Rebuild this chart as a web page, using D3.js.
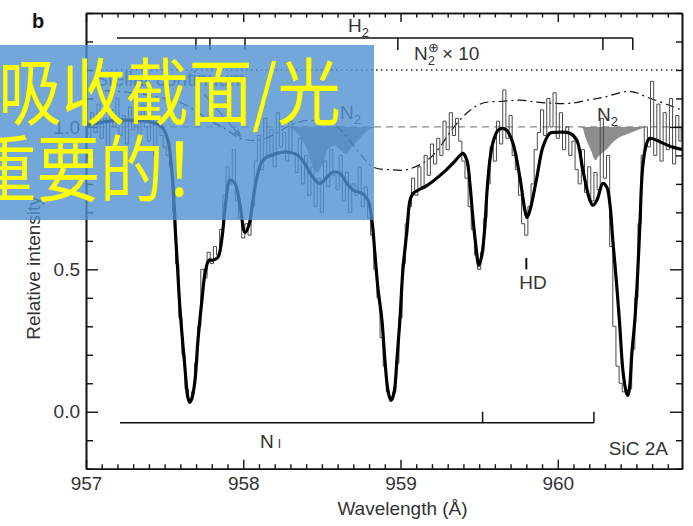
<!DOCTYPE html>
<html><head><meta charset="utf-8">
<script src="https://cdn.jsdelivr.net/npm/d3@7"></script>
<style>
body{margin:0;background:#fff}
svg{display:block}
text{font-family:'Liberation Sans',Arial,Helvetica,sans-serif}
</style>
</head><body>
<svg id="c" width="693" height="526"></svg>
<script>
// ---------------- data ----------------
const wavelengthTicks = [957, 958, 959, 960];
const wavelengthLabels = ["957", "958", "959", "960"];
const intensityTicks = [0.0, 0.5, 1.0];
const intensityLabels = ["0.0", "0.5", "1.0"];

// observed spectrum (thin histogram)
const observed = [
 [957.00,1.00],[957.02,0.95],[957.04,1.05],[957.06,0.98],[957.08,1.08],[957.10,0.96],[957.12,1.03],[957.14,0.92],
 [957.16,1.06],[957.18,1.00],[957.20,1.10],[957.22,0.97],[957.24,1.04],[957.26,0.94],[957.28,1.07],[957.30,0.99],
 [957.32,1.05],[957.34,0.93],[957.36,1.08],[957.38,1.00],[957.40,0.95],[957.42,1.04],[957.44,0.90],[957.46,1.02],
 [957.48,0.97],[957.50,0.93],[957.52,0.90],[957.54,0.86],[957.56,0.70],[957.58,0.52],[957.60,0.33],[957.62,0.20],
 [957.64,0.08],[957.66,0.04],[957.68,0.07],[957.70,0.17],[957.72,0.30],[957.74,0.50],[957.76,0.47],[957.78,0.56],
 [957.80,0.52],[957.82,0.58],[957.84,0.55],[957.86,0.64],[957.88,0.76],[957.90,0.86],[957.92,0.80],[957.94,0.92],
 [957.96,0.74],[957.98,0.68],[958.00,0.61],[958.02,0.66],[958.04,0.62],[958.06,0.72],[958.08,0.88],[958.10,0.97],
 [958.12,0.85],[958.14,1.03],[958.16,0.90],[958.18,0.99],[958.20,0.86],[958.22,1.05],[958.24,0.93],[958.26,0.98],
 [958.28,0.88],[958.30,1.02],[958.32,0.91],[958.34,0.84],[958.36,0.96],[958.38,0.80],[958.40,0.90],[958.42,0.76],
 [958.44,0.86],[958.46,0.72],[958.48,0.82],[958.50,0.70],[958.52,0.88],[958.54,0.79],[958.56,0.92],[958.58,0.83],
 [958.60,0.78],[958.62,0.90],[958.64,0.74],[958.66,0.84],[958.68,0.70],[958.70,0.80],[958.72,0.76],[958.74,0.86],
 [958.76,0.72],[958.78,0.79],[958.80,0.68],[958.82,0.62],[958.84,0.50],[958.86,0.40],[958.88,0.26],[958.90,0.16],
 [958.92,0.07],[958.94,0.04],[958.96,0.07],[958.98,0.17],[959.00,0.33],[959.02,0.52],[959.04,0.66],[959.06,0.72],
 [959.08,0.82],[959.10,0.76],[959.12,0.86],[959.14,0.79],[959.16,0.90],[959.18,0.83],[959.20,0.94],[959.22,0.87],
 [959.24,0.96],[959.26,0.90],[959.28,1.02],[959.30,0.92],[959.32,1.05],[959.34,0.97],[959.36,1.03],[959.38,0.95],
 [959.40,0.88],[959.42,0.82],[959.44,0.72],[959.46,0.64],[959.48,0.55],[959.50,0.50],[959.52,0.56],[959.54,0.68],
 [959.56,0.80],[959.58,0.93],[959.60,0.88],[959.62,1.02],[959.64,0.94],[959.66,1.13],[959.68,0.96],[959.70,1.04],
 [959.72,0.90],[959.74,0.85],[959.76,0.76],[959.78,0.66],[959.80,0.62],[959.82,0.72],[959.84,0.80],[959.86,0.92],
 [959.88,0.98],[959.90,1.06],[959.92,0.97],[959.94,1.10],[959.96,1.00],[959.98,1.12],[960.00,0.96],[960.02,1.05],
 [960.04,0.92],[960.06,1.00],[960.08,0.90],[960.10,0.95],[960.12,0.85],[960.14,0.80],[960.16,0.92],[960.18,0.77],
 [960.20,0.86],[960.22,0.74],[960.24,0.84],[960.26,0.78],[960.28,1.03],[960.30,0.82],[960.32,0.90],[960.34,0.58],
 [960.36,0.30],[960.38,0.16],[960.40,0.10],[960.42,0.07],[960.44,0.06],[960.46,0.08],[960.48,0.22],[960.50,0.40],
 [960.52,0.66],[960.54,0.90],[960.56,1.00],[960.58,0.93],[960.60,1.16],[960.62,0.90],[960.64,1.08],[960.66,0.88],
 [960.68,1.05],[960.70,0.92],[960.72,1.10],[960.74,0.87],[960.76,1.04],[960.78,0.95],[960.79,1.00]
];

// model fit (thick line)
const model = [
 [957.00,1.006],[957.10,1.016],[957.20,1.023],[957.31,1.023],[957.42,1.016],[957.483,0.999],[957.521,0.953],
 [957.547,0.837],[957.559,0.743],[957.569,0.627],[957.582,0.507],[957.594,0.391],[957.610,0.275],[957.629,0.156],
 [957.648,0.050],[957.661,0.033],[957.674,0.047],[957.693,0.110],[957.712,0.251],[957.737,0.391],[957.757,0.486],
 [957.782,0.532],[957.807,0.532],[957.839,0.542],[957.865,0.612],[957.890,0.743],[957.915,0.813],[957.947,0.802],
 [957.979,0.725],[958.011,0.630],[958.036,0.655],[958.062,0.743],[958.087,0.823],[958.125,0.883],[958.214,0.907],
 [958.297,0.911],[958.360,0.894],[958.405,0.858],[958.443,0.823],[958.488,0.802],[958.532,0.823],[958.570,0.841],
 [958.615,0.837],[958.659,0.802],[958.697,0.778],[958.755,0.767],[958.793,0.743],[958.818,0.672],[958.837,0.556],
 [958.856,0.436],[958.882,0.320],[958.901,0.180],[958.920,0.075],[958.939,0.040],[958.958,0.064],[958.977,0.180],
 [958.996,0.320],[959.015,0.496],[959.041,0.636],[959.060,0.741],[959.079,0.766],[959.168,0.794],[959.250,0.829],
 [959.333,0.872],[959.378,0.900],[959.397,0.907],[959.422,0.883],[959.441,0.802],[959.460,0.682],[959.479,0.584],
 [959.498,0.514],[959.517,0.549],[959.537,0.655],[959.549,0.766],[959.568,0.883],[959.587,0.943],[959.619,0.988],
 [959.651,0.995],[959.676,0.988],[959.715,0.943],[959.759,0.823],[959.791,0.707],[959.804,0.682],[959.823,0.707],
 [959.867,0.823],[959.905,0.929],[959.950,0.978],[959.994,0.981],[960.077,0.978],[960.121,0.953],[960.160,0.847],
 [960.204,0.743],[960.223,0.725],[960.249,0.743],[960.287,0.802],[960.312,0.788],[960.331,0.732],[960.350,0.602],
 [960.376,0.436],[960.395,0.296],[960.414,0.145],[960.433,0.075],[960.446,0.057],[960.458,0.092],[960.471,0.205],
 [960.490,0.320],[960.509,0.496],[960.522,0.654],[960.541,0.865],[960.566,0.943],[960.585,0.960],[960.630,0.953],
 [960.668,0.943],[960.731,0.929],[960.790,0.921]
];

// stellar continuum (dash-dot)
const continuum = [
 [957.00,1.13],[957.30,1.12],[957.50,1.10],[957.60,1.086],[957.81,1.016],[957.90,0.988],[957.98,0.960],
 [958.09,0.953],[958.19,0.971],[958.30,1.006],[958.41,1.023],[958.51,1.016],[958.60,0.999],[958.66,0.964],
 [958.74,0.907],[958.83,0.858],[958.93,0.850],[959.04,0.850],[959.17,0.883],[959.25,0.929],[959.31,0.978],
 [959.42,1.048],[959.52,1.083],[959.65,1.090],[959.76,1.094],[959.87,1.087],[959.97,1.083],[960.08,1.083],
 [960.19,1.094],[960.29,1.104],[960.46,1.125],[960.57,1.104],[960.71,1.076],[960.79,1.059]
];

// N2 absorption bands (grey shaded)
const n2BandA = [
 [958.297,1.0],[958.348,0.975],[958.399,0.93],[958.437,0.87],[958.469,0.84],[958.500,0.865],[958.538,0.92],
 [958.577,0.935],[958.615,0.92],[958.653,0.905],[958.691,0.93],[958.742,0.96],[958.793,0.988],[958.837,1.0]
];
const n2BandB = [
 [960.140,1.0],[960.159,0.995],[960.172,0.970],[960.191,0.942],[960.216,0.911],[960.229,0.890],[960.242,0.883],
 [960.255,0.894],[960.280,0.908],[960.312,0.922],[960.344,0.943],[960.382,0.960],[960.439,0.974],[960.503,0.988],
 [960.554,1.0]
];

const continuumLevel = 1.0;     // dashed normalised continuum
const n2x10Level = 1.2;         // dotted N2 x10 reference

const h2Range = [957.197, 960.477];
const h2Ticks = [957.699, 957.788, 958.011, 958.983, 960.287, 960.477];
const h2Level = [1.312, 1.27];

const n1Range = [957.216, 960.23];
const n1Ticks = [959.522, 960.23];
const n1Level = [-0.039, 0.0];

const hdMark = [959.80, 0.54, 0.50];

// ---------------- drawing ----------------
(function(){
const svg = d3.select('#c');
const x = d3.scaleLinear().domain([957, 960.79]).range([86, 682]);
const y = d3.scaleLinear().domain([-0.2, 1.4]).range([468.7, 13]);

svg.append('defs').append('clipPath').attr('id','plot')
  .append('rect').attr('x',x(957)).attr('y',y(1.4)).attr('width',x(960.79)-x(957)).attr('height',y(-0.2)-y(1.4));
const g = svg.append('g').attr('clip-path','url(#plot)');

const area = d3.area().x(d=>x(d[0])).y0(y(continuumLevel)).y1(d=>y(d[1])).curve(d3.curveMonotoneX);
[n2BandA, n2BandB].forEach(b => g.append('path').attr('d', area(b)).attr('fill','#8e8e8e'));

g.append('line').attr('x1',x(957)).attr('x2',x(960.79)).attr('y1',y(continuumLevel)).attr('y2',y(continuumLevel))
  .attr('stroke','#8a8a8a').attr('stroke-width',1.2).attr('stroke-dasharray','7,5');
g.append('line').attr('x1',x(957)).attr('x2',x(960.79)).attr('y1',y(n2x10Level)).attr('y2',y(n2x10Level))
  .attr('stroke','#222').attr('stroke-width',1.4).attr('stroke-dasharray','1.4,3.6');

g.append('path').attr('d', d3.line().x(d=>x(d[0])).y(d=>y(d[1])).curve(d3.curveCatmullRom)(continuum)).attr('fill','none')
  .attr('stroke','#111').attr('stroke-width',1.2).attr('stroke-dasharray','9,4,2,4');

g.append('path').attr('d', d3.line().x(d=>x(d[0])).y(d=>y(d[1])).curve(d3.curveStep)(observed))
  .attr('fill','none').attr('stroke','#4a4a4a').attr('stroke-width',1);

g.append('path').attr('d', d3.line().x(d=>x(d[0])).y(d=>y(d[1])).curve(d3.curveCatmullRom.alpha(0.5))(model))
  .attr('fill','none').attr('stroke','#000').attr('stroke-width',3.2).attr('stroke-linejoin','round');

// H2 bar
const bars = svg.append('g').attr('stroke','#111').attr('stroke-width',1.5).attr('fill','none');
bars.append('line').attr('x1',x(h2Range[0])).attr('x2',x(h2Range[1])).attr('y1',y(h2Level[0])).attr('y2',y(h2Level[0]));
h2Ticks.forEach(t => bars.append('line').attr('x1',x(t)).attr('x2',x(t)).attr('y1',y(h2Level[0])).attr('y2',y(h2Level[1])));
// N I bar
bars.append('line').attr('x1',x(n1Range[0])).attr('x2',x(n1Range[1])).attr('y1',y(n1Level[0])).attr('y2',y(n1Level[0]));
n1Ticks.forEach(t => bars.append('line').attr('x1',x(t)).attr('x2',x(t)).attr('y1',y(n1Level[0])).attr('y2',y(n1Level[1])));
// HD tick
bars.append('line').attr('x1',x(hdMark[0])).attr('x2',x(hdMark[0])).attr('y1',y(hdMark[1])).attr('y2',y(hdMark[2])).attr('stroke-width',2);

// arrow from label to continuum
svg.append('defs').append('marker').attr('id','ah').attr('viewBox','0 0 10 10').attr('refX',9).attr('refY',5)
  .attr('markerWidth',7).attr('markerHeight',7).attr('orient','auto')
  .append('path').attr('d','M0,1 L10,5 L0,9 Z').attr('fill','#555');
svg.append('line').attr('x1',x(957.75)).attr('y1',y(1.115)).attr('x2',x(957.985)).attr('y2',y(0.965))
  .attr('stroke','#555').attr('stroke-width',1.2).attr('marker-end','url(#ah)');

// axes
const minorX = x.ticks(40).filter(t => Math.abs(t - Math.round(t)) > 1e-6);
const minorY = y.ticks(16).filter(t => !intensityTicks.some(m => Math.abs(m - t) < 1e-6));
const axG = svg.append('g');
function styleAxis(sel){ sel.selectAll('path.domain').attr('stroke','#111').attr('stroke-width',1.6);
  sel.selectAll('.tick line').attr('stroke','#111').attr('stroke-width',1.4);
  sel.selectAll('text').attr('fill','#333').attr('font-family',"'Liberation Sans',Arial,sans-serif").attr('font-size',19); }
function addAxis(gen, tx, ty){ const a = axG.append('g').attr('transform',`translate(${tx},${ty})`).call(gen); styleAxis(a); return a; }
addAxis(d3.axisBottom(x).tickValues(wavelengthTicks).tickFormat((d,i)=>wavelengthLabels[i]).tickSize(-9).tickSizeOuter(0).tickPadding(8), 0, y(-0.2));
addAxis(d3.axisBottom(x).tickValues(minorX).tickFormat('').tickSize(-4.5).tickSizeOuter(0), 0, y(-0.2));
addAxis(d3.axisTop(x).tickValues(wavelengthTicks).tickFormat('').tickSize(-9).tickSizeOuter(0), 0, y(1.4));
addAxis(d3.axisTop(x).tickValues(minorX).tickFormat('').tickSize(-4.5).tickSizeOuter(0), 0, y(1.4));
addAxis(d3.axisLeft(y).tickValues(intensityTicks).tickFormat((d,i)=>intensityLabels[i]).tickSize(-12).tickSizeOuter(0).tickPadding(6), x(957), 0);
addAxis(d3.axisLeft(y).tickValues(minorY).tickFormat('').tickSize(-7).tickSizeOuter(0), x(957), 0);
addAxis(d3.axisRight(y).tickValues(intensityTicks).tickFormat('').tickSize(-12).tickSizeOuter(0), x(960.79), 0);
addAxis(d3.axisRight(y).tickValues(minorY).tickFormat('').tickSize(-6).tickSizeOuter(0), x(960.79), 0);

// labels
const T = svg.append('g').attr('fill','#333').attr('font-size',19);
T.append('text').attr('x',32).attr('y',28).attr('font-weight','bold').attr('font-size',20).attr('fill','#111').text('b');
T.append('text').attr('x',x(959.0)+2).attr('y',515).attr('text-anchor','middle').text('Wavelength (Å)');
T.append('text').attr('transform','translate(40,268) rotate(-90)').attr('text-anchor','middle').text('Relative intensity');

const h2 = T.append('text').attr('x',348).attr('y',32);
h2.append('tspan').text('H');
h2.append('tspan').attr('font-size',13).attr('dy',5).text('2');

const n2x = T.append('text').attr('x',414).attr('y',60);
n2x.append('tspan').text('N');
n2x.append('tspan').attr('font-size',13).attr('dy',5).text('2');
n2x.append('tspan').attr('font-size',13).attr('dy',-13).attr('dx',-7).attr('font-family','DejaVu Sans').text('⊕');
n2x.append('tspan').attr('dy',8).attr('dx',3).text('× 10');

[[340,119],[597,121]].forEach(p => {
  const t = T.append('text').attr('x',p[0]).attr('y',p[1]);
  t.append('tspan').text('N');
  t.append('tspan').attr('font-size',13).attr('dy',5).text('2');
});

T.append('text').attr('x',533).attr('y',289).attr('text-anchor','middle').text('HD');
const ni = T.append('text').attr('x',260).attr('y',448);
ni.append('tspan').text('N');
ni.append('tspan').attr('font-size',12).attr('dx',4).text('I');
T.append('text').attr('x',668).attr('y',455).attr('text-anchor','end').text('SiC 2A');
T.append('text').attr('x',95).attr('y',86).attr('fill','#555').attr('font-size',19.5).text('Stellar continuum');

// overlay banner
svg.append('rect').attr('x',0).attr('y',45).attr('width',374).attr('height',175).attr('fill','rgba(80,145,208,0.8)');
const cjk = svg.append('g').attr('fill','#ffff00').attr('font-size',73)
  .attr('transform','scale(0.87,1)');
cjk.append('text').attr('x',-2).attr('y',119).style('font-family',"'Noto Sans CJK SC',sans-serif").text('吸收截面/光');
cjk.append('text').attr('x',-31).attr('y',196).style('font-family',"'Noto Sans CJK SC',sans-serif").text('重要的！');
})();
</script>
</body></html>
